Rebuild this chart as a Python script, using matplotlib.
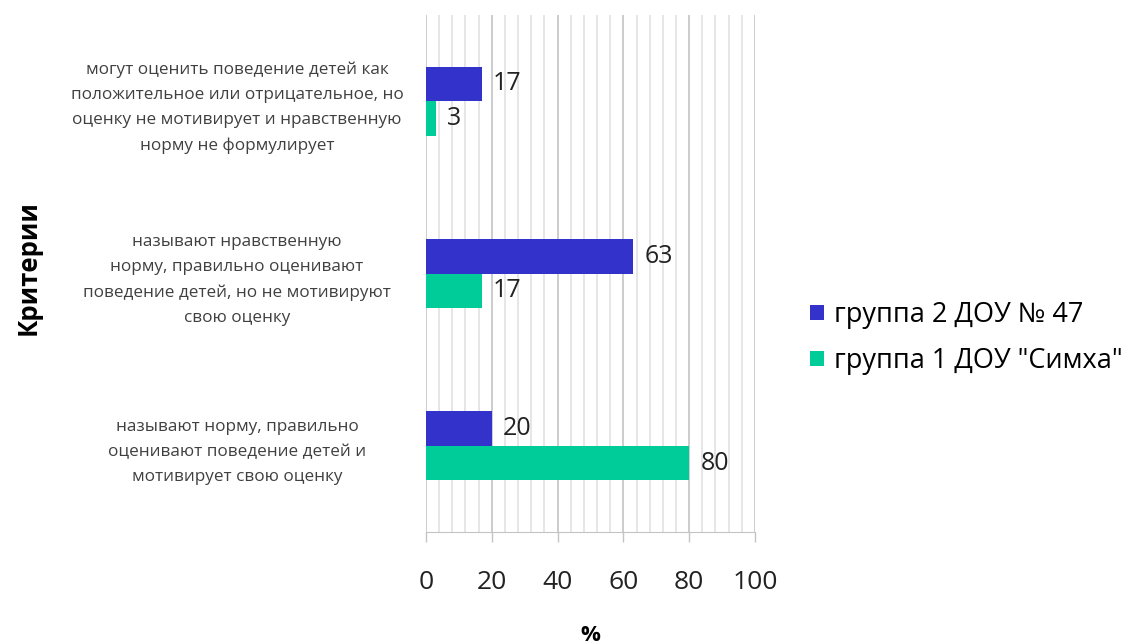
import matplotlib
matplotlib.use("Agg")
import matplotlib.pyplot as plt
import numpy as np
from matplotlib.ticker import MultipleLocator

plt.rcParams['font.family'] = ['Open Sans', 'DejaVu Sans']

# criteria, bottom to top
criteria = [
    "называют норму, правильно\nоценивают поведение детей и\nмотивирует свою оценку",
    "называют нравственную\nнорму, правильно оценивают\nповедение детей, но не мотивируют\nсвою оценку",
    "могут оценить поведение детей как\nположительное или отрицательное, но\nоценку не мотивирует и нравственную\nнорму не формулирует",
]
group2 = [20, 63, 17]
group1 = [80, 17, 3]
series_names = ["группа 2 ДОУ № 47", 'группа 1 ДОУ "Симха"']
colors = ["#3333cc", "#00cc99"]

fig = plt.figure(figsize=(11.32, 6.44), dpi=100)
ax = fig.add_axes([0.3763, 0.1739, 0.2906, 0.8028])

y = np.arange(len(criteria))
h = 0.2
b2 = ax.barh(y + h / 2, group2, height=h, color=colors[0], label=series_names[0], zorder=3)
b1 = ax.barh(y - h / 2, group1, height=h, color=colors[1], label=series_names[1], zorder=3)

for bars, vals in ((b2, group2), (b1, group1)):
    for bar, v in zip(bars, vals):
        ax.annotate(str(v), (bar.get_width(), bar.get_y() + bar.get_height() / 2),
                    xytext=(8, 0), textcoords="offset points",
                    va="center", ha="left", fontsize=18, color="#222222")

ax.set_xlim(0, 100)
ax.set_ylim(-0.5, 2.5)
ax.xaxis.set_major_locator(MultipleLocator(20))
ax.xaxis.set_minor_locator(MultipleLocator(4))
ax.grid(which="major", axis="x", color="#c4c4c4", linewidth=1.2, zorder=0)
ax.grid(which="minor", axis="x", color="#e2e2e2", linewidth=1.2, zorder=0)
ax.tick_params(axis="x", which="major", length=7, width=1, color="#c4c4c4",
               labelsize=19, pad=20, labelcolor="#222222")
ax.tick_params(axis="x", which="minor", length=0)

ax.set_yticks(y)
ax.set_yticklabels(criteria, fontsize=12.3, color="#404040", ha="center",
                   linespacing=1.75)
ax.tick_params(axis="y", length=0, pad=136)

for s in ("top", "right", "left"):
    ax.spines[s].set_visible(False)
ax.spines["bottom"].set_color("#c4c4c4")

ax.set_xlabel("%", fontsize=16, fontweight="bold", labelpad=22)
fig.text(0.025, 0.585, "Критерии", rotation=90, fontsize=18.5, fontweight="bold",
         ha="center", va="center")

leg = fig.legend(handles=[b2, b1], labels=series_names, loc="center left",
                 bbox_to_anchor=(0.694, 0.475), frameon=False, fontsize=19.5,
                 handlelength=0.5, handleheight=0.5, handletextpad=0.4,
                 labelspacing=0.65)

fig.savefig("out.png", dpi=100, facecolor="white")
